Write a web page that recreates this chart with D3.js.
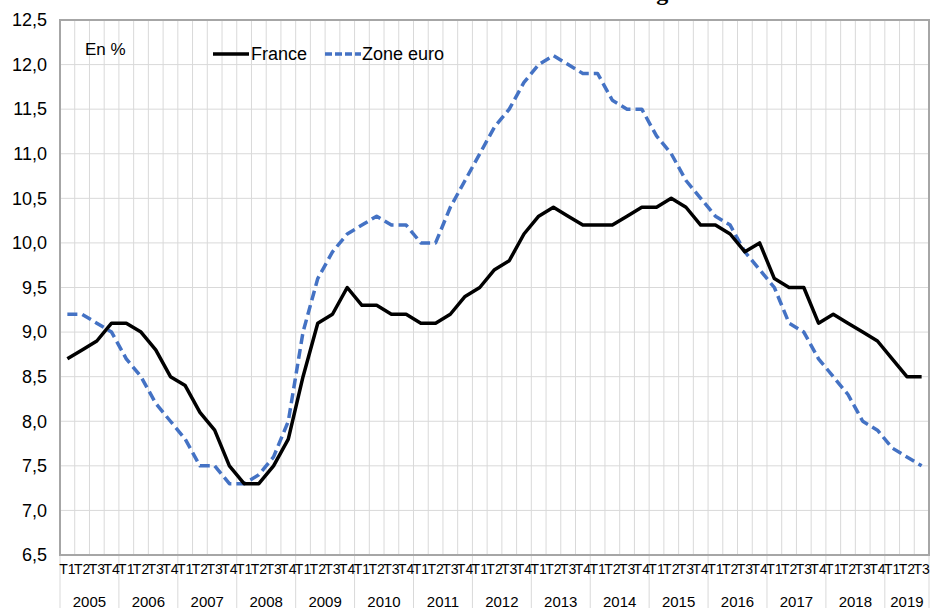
<!DOCTYPE html>
<html>
<head>
<meta charset="utf-8">
<script src="https://cdn.jsdelivr.net/npm/d3@7"></script>
<style>
  body { margin: 0; background: #fff; }
  text { font-family: "Liberation Sans", Arial, sans-serif; fill: #000; }
</style>
</head>
<body>
<div id="graph"></div>
<script>
// quarterly unemployment rate, 2005 T1 .. 2019 T3
var years = ["2005", "2006", "2007", "2008", "2009", "2010", "2011", "2012", "2013", "2014", "2015", "2016", "2017", "2018", "2019"];
var quarters = ["T1", "T2", "T3", "T4"];
var france = [
    8.7, 8.8, 8.9, 9.1,
    9.1, 9.0, 8.8, 8.5,
    8.4, 8.1, 7.9, 7.5,
    7.3, 7.3, 7.5, 7.8,
    8.5, 9.1, 9.2, 9.5,
    9.3, 9.3, 9.2, 9.2,
    9.1, 9.1, 9.2, 9.4,
    9.5, 9.7, 9.8, 10.1,
    10.3, 10.4, 10.3, 10.2,
    10.2, 10.2, 10.3, 10.4,
    10.4, 10.5, 10.4, 10.2,
    10.2, 10.1, 9.9, 10.0,
    9.6, 9.5, 9.5, 9.1,
    9.2, 9.1, 9.0, 8.9,
    8.7, 8.5, 8.5
];
var zoneEuro = [
    9.2, 9.2, 9.1, 9.0,
    8.7, 8.5, 8.2, 8.0,
    7.8, 7.5, 7.5, 7.3,
    7.3, 7.4, 7.6, 8.0,
    9.0, 9.6, 9.9, 10.1,
    10.2, 10.3, 10.2, 10.2,
    10.0, 10.0, 10.4, 10.7,
    11.0, 11.3, 11.5, 11.8,
    12.0, 12.1, 12.0, 11.9,
    11.9, 11.6, 11.5, 11.5,
    11.2, 11.0, 10.7, 10.5,
    10.3, 10.2, 9.9, 9.7,
    9.5, 9.1, 9.0, 8.7,
    8.5, 8.3, 8.0, 7.9,
    7.7, 7.6, 7.5
];
var yTicks = [6.5, 7.0, 7.5, 8.0, 8.5, 9.0, 9.5, 10.0, 10.5, 11.0, 11.5, 12.0, 12.5];

var labels = [];
for (let yr of years) {
    for (let q of quarters) {
        labels.push(q);
    }
}
labels = labels.slice(0, france.length);
var idx = d3.range(france.length);

var width = 933, height = 608;
var plotLeft = 60, plotRight = 929, plotTop = 20, plotBottom = 555;

var svg = d3.select("#graph")
    .append("svg")
    .attr("width", width)
    .attr("height", height);

var x = d3.scaleBand().domain(idx).range([plotLeft, plotRight]).padding(0);
var y = d3.scaleLinear().domain([6.5, 12.5]).range([plotBottom, plotTop]);
var bw = x.bandwidth();

// title (cut off at the top, as in the original)
svg.append("text")
    .attr("x", 590)
    .attr("y", 0)
    .attr("text-anchor", "middle")
    .style("font-family", "'Liberation Serif', 'Times New Roman', serif")
    .style("font-weight", "bold")
    .style("font-size", "24px")
    .text("Taux de chômage");

// grid
svg.append("g")
    .selectAll("line")
    .data(yTicks)
    .enter()
    .append("line")
    .attr("x1", plotLeft).attr("x2", plotRight)
    .attr("y1", d => y(d)).attr("y2", d => y(d))
    .attr("stroke", "#d9d9d9")
    .attr("stroke-width", 1);

svg.append("g")
    .selectAll("line")
    .data(d3.range(france.length + 1))
    .enter()
    .append("line")
    .attr("x1", i => plotLeft + i * bw).attr("x2", i => plotLeft + i * bw)
    .attr("y1", plotTop).attr("y2", plotBottom)
    .attr("stroke", "#d9d9d9")
    .attr("stroke-width", 1);

// year separators below the axis
var yearBounds = [];
for (let i = 0; i < france.length; i += 4) yearBounds.push(i);
yearBounds.push(france.length);
svg.append("g")
    .selectAll("line")
    .data(yearBounds)
    .enter()
    .append("line")
    .attr("x1", i => plotLeft + i * bw).attr("x2", i => plotLeft + i * bw)
    .attr("y1", plotBottom).attr("y2", height)
    .attr("stroke", "#d9d9d9")
    .attr("stroke-width", 1);

// plot frame
svg.append("rect")
    .attr("x", plotLeft).attr("y", plotTop)
    .attr("width", plotRight - plotLeft).attr("height", plotBottom - plotTop)
    .attr("fill", "none")
    .attr("stroke", "#a6a6a6")
    .attr("stroke-width", 2);

// y axis
var yAxis = svg.append("g")
    .attr("transform", "translate(" + plotLeft + ",0)")
    .call(d3.axisLeft(y)
        .tickValues(yTicks)
        .tickSize(0)
        .tickPadding(13)
        .tickFormat(d => d3.format(".1f")(d).replace(".", ",")));
yAxis.select(".domain").remove();
yAxis.selectAll("text").style("font-size", "18px").style("font-family", "'Liberation Sans', Arial, sans-serif");

// x axis: quarters
var xAxis = svg.append("g")
    .attr("transform", "translate(0," + plotBottom + ")")
    .call(d3.axisBottom(x)
        .tickSize(0)
        .tickPadding(9)
        .tickFormat(i => labels[i]));
xAxis.select(".domain").remove();
xAxis.selectAll("text").style("font-size", "14px").style("font-family", "'Liberation Sans', Arial, sans-serif");

// x axis: years
svg.append("g")
    .selectAll("text")
    .data(years)
    .enter()
    .append("text")
    .attr("x", (d, k) => {
        let a = k * 4, b = Math.min(a + 4, france.length);
        return plotLeft + (a + b) / 2 * bw;
    })
    .attr("y", 607)
    .attr("text-anchor", "middle")
    .style("font-size", "15px")
    .text(d => d);

// lines
var line = d3.line()
    .x(i => x(i) + bw / 2);

svg.append("path")
    .attr("fill", "none")
    .attr("stroke", "#4472c4")
    .attr("stroke-width", 3.5)
    .attr("stroke-dasharray", "10,5")
    .attr("stroke-linejoin", "round")
    .attr("d", line.y(i => y(zoneEuro[i]))(idx));

svg.append("path")
    .attr("fill", "none")
    .attr("stroke", "#000")
    .attr("stroke-width", 3.5)
    .attr("stroke-linejoin", "round")
    .attr("d", line.y(i => y(france[i]))(idx));

// legend
svg.append("text")
    .attr("x", 85).attr("y", 55)
    .style("font-size", "17px")
    .text("En %");

svg.append("line")
    .attr("x1", 213).attr("x2", 249)
    .attr("y1", 54).attr("y2", 54)
    .attr("stroke", "#000")
    .attr("stroke-width", 3.5);
svg.append("text")
    .attr("x", 251).attr("y", 60)
    .style("font-size", "18px")
    .text("France");

svg.append("line")
    .attr("x1", 325).attr("x2", 361)
    .attr("y1", 54).attr("y2", 54)
    .attr("stroke", "#4472c4")
    .attr("stroke-width", 3.5)
    .attr("stroke-dasharray", "7,3");
svg.append("text")
    .attr("x", 362).attr("y", 60)
    .style("font-size", "18px")
    .text("Zone euro");
</script>
</body>
</html>
